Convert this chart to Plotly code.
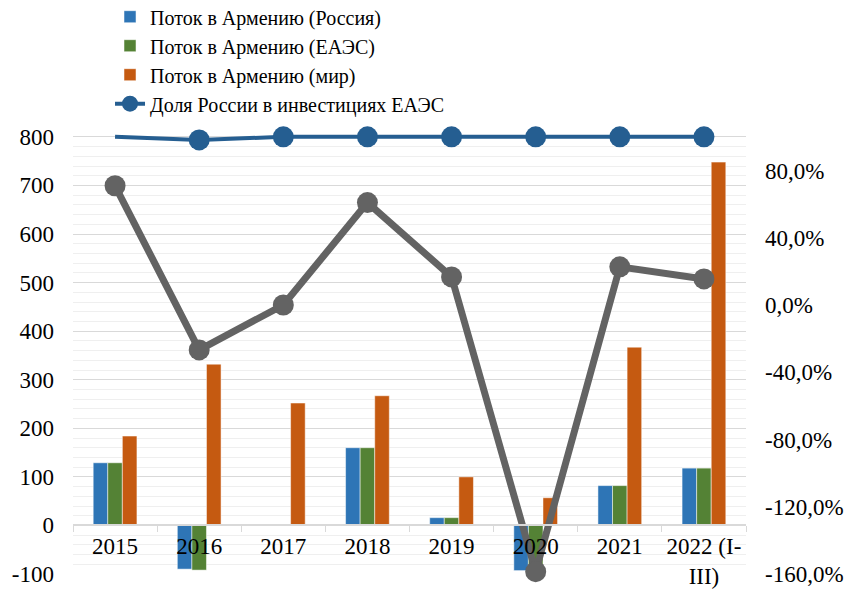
import plotly.graph_objects as go

years = ['2015', '2016', '2017', '2018', '2019', '2020', '2021', '2022 (I-<br>III)']
flow_russia = [129, -90, 0, 160, 16, -93, 82, 118]
flow_eaeu = [129, -92, 0, 160, 16, -93, 82, 118]
flow_world = [184, 332, 252, 267, 100, 57, 367, 748]
share_russia_world = [0.709, -0.267, 0.0, 0.609, 0.167, -1.586, 0.227, 0.155]
share_russia_eaeu = [1.0, 0.982, 1.0, 1.0, 1.0, 1.0, 1.0, 1.0]

left_ticks = [-100, 0, 100, 200, 300, 400, 500, 600, 700, 800]
right_ticks = [-1.6, -1.2, -0.8, -0.4, 0, 0.4, 0.8]

font_name = '"Times New Roman", "Liberation Serif", serif'

# a little headroom above 800 / 100% so the share line at the top is not clipped
left_range = [-100, 810]
right_range = [-1.6, 1.0 + 10 / 900 * 2.6]

fig = go.Figure()
fig.add_trace(go.Bar(x=years, y=flow_russia, name='Поток в Армению (Россия)',
                     marker=dict(color='#2e75b6', line=dict(color='white', width=0.5))))
fig.add_trace(go.Bar(x=years, y=flow_eaeu, name='Поток в Армению (ЕАЭС)',
                     marker=dict(color='#548235', line=dict(color='white', width=0.5))))
fig.add_trace(go.Bar(x=years, y=flow_world, name='Поток в Армению (мир)',
                     marker=dict(color='#c55a11', line=dict(color='white', width=0.5))))
fig.add_trace(go.Scatter(x=years, y=share_russia_world, yaxis='y2', mode='lines+markers',
                         showlegend=False, cliponaxis=False, line=dict(color='#636363', width=7),
                         marker=dict(size=21, color='#636363', opacity=1, line=dict(width=0))))
fig.add_trace(go.Scatter(x=years, y=share_russia_eaeu, yaxis='y2', mode='lines+markers',
                         name='Доля России в инвестициях ЕАЭС', cliponaxis=False,
                         line=dict(color='#255e91', width=4),
                         marker=dict(size=[0, 21, 21, 21, 21, 21, 21, 21], color='#255e91',
                                     opacity=1, line=dict(width=0))))

fig.update_layout(
    width=849, height=592,
    margin=dict(l=73, r=103, t=132, b=18, autoexpand=False),
    plot_bgcolor='white', paper_bgcolor='white',
    font=dict(family=font_name, size=23, color='black'),
    barmode='group', bargap=0.48, bargroupgap=0,
    legend=dict(x=0.055, y=1.305, xanchor='left', yanchor='top', font=dict(size=20),
                bgcolor='rgba(0,0,0,0)', tracegroupgap=0),
    xaxis=dict(range=[-0.5, 7.5], anchor='free', position=100 / 910, showline=True,
               linecolor='#d9d9d9', linewidth=1.5, tickangle=0,
               ticks='outside', tickson='boundaries', ticklen=6, tickcolor='#d9d9d9',
               showgrid=False),
    yaxis=dict(range=left_range, tickvals=left_ticks, ticktext=[str(v) for v in left_ticks],
               showgrid=True, gridcolor='#d9d9d9', gridwidth=1.3,
               zeroline=False, ticklabelstandoff=18,
               minor=dict(dtick=20, showgrid=True, gridcolor='#efefef', gridwidth=1)),
    yaxis2=dict(range=right_range, overlaying='y', side='right', showgrid=False, zeroline=False,
                tickvals=right_ticks,
                ticktext=[f'{v * 100:.1f}%'.replace('.', ',') for v in right_ticks],
                ticklabelstandoff=18),
)

# drop the page's default body margin so the figure fills the window exactly
fig.write_html("out.html", config={'displayModeBar': False},
               post_script="document.body.style.margin='0';document.body.style.overflow='hidden';")
